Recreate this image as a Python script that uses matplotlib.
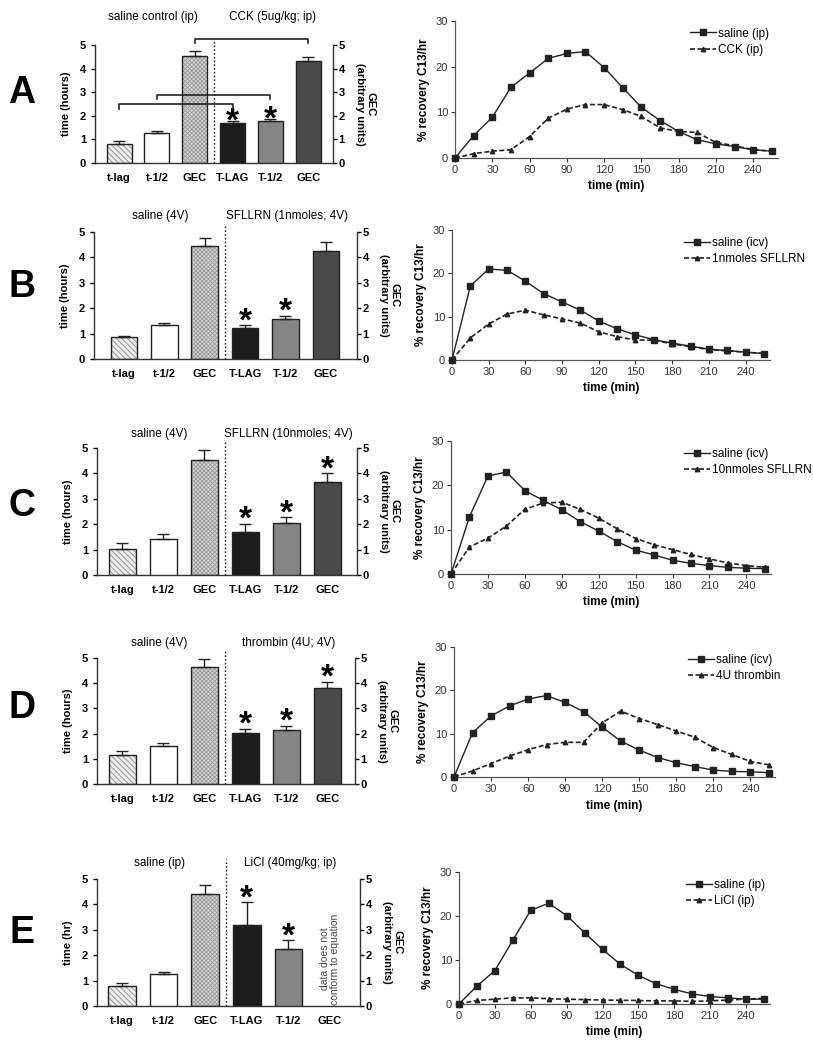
import matplotlib
matplotlib.use("Agg")
import matplotlib.pyplot as plt
import numpy as np

plt.rcParams['font.family'] = ['Liberation Sans', 'DejaVu Sans']
plt.rcParams['hatch.linewidth'] = 0.6

# ---------------- data ----------------
bar_labels = ["t-lag", "t-1/2", "GEC", "T-LAG", "T-1/2", "GEC"]
panel_letters = ["A", "B", "C", "D", "E"]

saline_titles = ["saline control (ip)", "saline (4V)", "saline (4V)", "saline (4V)", "saline (ip)"]
treat_titles = ["CCK (5ug/kg; ip)", "SFLLRN (1nmoles; 4V)", "SFLLRN (10nmoles; 4V)",
                "thrombin (4U; 4V)", "LiCl (40mg/kg; ip)"]
left_ylabels = ["time (hours)", "time (hours)", "time (hours)", "time (hours)", "time (hr)"]

bars_A = [0.82, 1.25, 4.53, 1.70, 1.76, 4.31]
errs_A = [0.11, 0.11, 0.23, 0.07, 0.10, 0.19]
bars_B = [0.85, 1.32, 4.45, 1.21, 1.59, 4.24]
errs_B = [0.07, 0.09, 0.32, 0.11, 0.12, 0.36]
bars_C = [1.04, 1.41, 4.54, 1.68, 2.04, 3.66]
errs_C = [0.21, 0.20, 0.38, 0.33, 0.24, 0.35]
bars_D = [1.17, 1.50, 4.64, 2.03, 2.14, 3.80]
errs_D = [0.15, 0.12, 0.31, 0.17, 0.16, 0.25]
bars_E = [0.80, 1.25, 4.41, 3.18, 2.25, np.nan]
errs_E = [0.11, 0.08, 0.37, 0.91, 0.34, np.nan]

stars_A = [3, 4]
stars_B = [3, 4]
stars_C = [3, 4, 5]
stars_D = [3, 4, 5]
stars_E = [3, 4]

time_min = [0, 15, 30, 45, 60, 75, 90, 105, 120, 135, 150, 165, 180, 195, 210, 225, 240, 255]

line_saline_A = [0, 4.9, 8.9, 15.5, 18.6, 21.8, 22.9, 23.3, 19.8, 15.4, 11.1, 8.2, 5.8, 4.0, 3.1, 2.5, 1.8, 1.5]
line_treat_A = [0, 0.95, 1.5, 1.8, 4.7, 8.7, 10.7, 11.7, 11.7, 10.6, 9.1, 6.6, 5.8, 5.6, 3.4, 2.7, 1.8, 1.5]
line_saline_B = [0, 17.1, 21.0, 20.7, 18.2, 15.3, 13.4, 11.5, 9.0, 7.2, 5.8, 4.7, 3.9, 3.2, 2.5, 2.2, 1.8, 1.5]
line_treat_B = [0, 5.1, 8.3, 10.6, 11.5, 10.4, 9.5, 8.5, 6.5, 5.4, 4.6, 4.6, 3.7, 3.1, 2.4, 2.1, 1.8, 1.5]
line_saline_C = [0, 12.9, 22.1, 23.0, 18.8, 16.6, 14.5, 11.8, 9.7, 7.3, 5.4, 4.3, 3.1, 2.4, 1.9, 1.5, 1.3, 1.2]
line_treat_C = [0, 6.1, 8.1, 10.8, 14.6, 16.0, 16.2, 14.6, 12.6, 10.2, 8.0, 6.6, 5.5, 4.4, 3.4, 2.5, 1.9, 1.5]
line_saline_D = [0, 10.2, 14.1, 16.4, 18.0, 18.8, 17.2, 15.1, 11.5, 8.3, 6.2, 4.5, 3.3, 2.4, 1.6, 1.3, 1.2, 1.0]
line_treat_D = [0, 1.4, 3.1, 4.8, 6.3, 7.5, 8.0, 8.0, 12.5, 15.2, 13.5, 12.1, 10.6, 9.2, 6.8, 5.2, 3.6, 2.8]
line_saline_E = [0, 4.1, 7.6, 14.5, 21.3, 22.9, 20.1, 16.2, 12.4, 9.0, 6.5, 4.6, 3.3, 2.3, 1.7, 1.4, 1.1, 1.1]
line_treat_E = [0, 0.8, 1.1, 1.4, 1.4, 1.2, 1.1, 1.0, 0.9, 0.85, 0.8, 0.7, 0.7, 0.6, 0.7, 0.9, 1.1, 1.3]

saline_legend = ["saline (ip)", "saline (icv)", "saline (icv)", "saline (icv)", "saline (ip)"]
treat_legend = ["CCK (ip)", "1nmoles SFLLRN", "10nmoles SFLLRN", "4U thrombin", "LiCl (ip)"]

bars_all = [bars_A, bars_B, bars_C, bars_D, bars_E]
errs_all = [errs_A, errs_B, errs_C, errs_D, errs_E]
stars_all = [stars_A, stars_B, stars_C, stars_D, stars_E]
lines_sal = [line_saline_A, line_saline_B, line_saline_C, line_saline_D, line_saline_E]
lines_trt = [line_treat_A, line_treat_B, line_treat_C, line_treat_D, line_treat_E]

# ---------------- layout (pixels) ----------------
W, H = 813, 1050
bar_boxes = [(95, 45, 333, 163), (94, 232, 357, 359), (97, 448, 357, 575),
             (97, 658, 355, 784), (97, 879, 360, 1006)]
line_boxes = [(455, 21, 778, 158), (452, 230, 770, 360), (451, 441, 771, 574),
              (454, 647, 775, 777), (459, 872, 770, 1004)]
bar_xlims = [(-0.64, 5.66), (-0.74, 5.77), (-0.62, 5.72), (-0.62, 5.68), (-0.6, 5.72)]
title_y = [6.19, 5.63, 5.55, 5.6, 5.63]
dotline_top = [5.18, 5.33, 5.33, 5.3, 5.8]
letter_y = [93, 287, 506, 708, 933]
star_offset_pts = [-7.0, -3.6, -3.6, -3.6, -3.6]

fig = plt.figure(figsize=(W / 100, H / 100), dpi=100)


def px_axes(box):
    x0, y0, x1, y1 = box
    return fig.add_axes([x0 / W, 1 - y1 / H, (x1 - x0) / W, (y1 - y0) / H])


face_cols = ['#ececec', 'white', '#d4d4d4', '#1c1c1c', '#858585', '#4a4a4a']
hatches = ['\\\\\\\\\\\\', None, 'xxxxxxxx', None, None, None]
hatch_cols = ['#8a8a8a', None, '#9a9a9a', None, None, None]

for i in range(5):
    ax = px_axes(bar_boxes[i])
    x = np.arange(6)
    vals = bars_all[i]
    errs = errs_all[i]
    for j in range(6):
        if np.isnan(vals[j]):
            continue
        if hatches[j]:
            ax.bar(x[j], vals[j], width=0.66, color=face_cols[j], edgecolor=hatch_cols[j],
                   hatch=hatches[j], linewidth=0, zorder=2)
            ax.bar(x[j], vals[j], width=0.66, fill=False, edgecolor='#222222', linewidth=1.0, zorder=3)
        else:
            ax.bar(x[j], vals[j], width=0.66, color=face_cols[j], edgecolor='#222222',
                   linewidth=1.0, zorder=3)
        ax.errorbar(x[j], vals[j], yerr=[[0], [errs[j]]], fmt='none', ecolor='#222222',
                    elinewidth=1.0, capsize=4.5, capthick=1.0, zorder=4)
    for j in stars_all[i]:
        ax.annotate('*', xy=(x[j], vals[j] + errs[j]), xytext=(0, star_offset_pts[i]),
                    textcoords='offset points', ha='center', va='baseline',
                    fontsize=24, fontweight='bold', annotation_clip=False)
    ax.set_xlim(*bar_xlims[i])
    ax.set_ylim(0, 5)
    ax.set_yticks(range(6))
    ax.set_xticks(x)
    ax.set_xticklabels(bar_labels, fontweight='bold', fontsize=8)
    ax.tick_params(axis='x', length=0, pad=7)
    ax.tick_params(axis='y', direction='out', length=3, labelsize=8, width=1)
    for lab in ax.get_yticklabels():
        lab.set_fontweight('bold')
    ax.spines['top'].set_visible(False)
    ax.spines['right'].set_visible(False)
    for s in ['left', 'bottom']:
        ax.spines[s].set_linewidth(1.0)
        ax.spines[s].set_color('#333333')
    ax.set_ylabel(left_ylabels[i], fontweight='bold', fontsize=8, labelpad=6)

    ax2 = ax.twinx()
    ax2.set_ylim(0, 5)
    ax2.set_yticks(range(6))
    ax2.tick_params(axis='y', direction='out', length=3, labelsize=8, width=1, pad=1)
    for lab in ax2.get_yticklabels():
        lab.set_fontweight('bold')
    for s in ['top', 'left', 'bottom']:
        ax2.spines[s].set_visible(False)
    ax2.spines['right'].set_linewidth(1.0)
    ax2.spines['right'].set_color('#333333')
    ax2.set_ylabel("GEC\n(arbitrary units)", rotation=270, fontweight='bold', fontsize=8,
                   labelpad=22, linespacing=1.1)

    ax.plot([2.5, 2.5], [0, dotline_top[i]], ls=(0, (1.2, 1.5)), color='#222222', lw=1.0,
            clip_on=False, zorder=5)
    ax.text(0.9, title_y[i], saline_titles[i], ha='center', va='center', fontsize=8.5)
    ax.text(4.05, title_y[i], treat_titles[i], ha='center', va='center', fontsize=8.5)

    if i == 0:
        bk = [(2, 5, 5.24, 5.07), (1, 4, 2.90, 2.70), (0, 3, 2.49, 2.29)]
        for (a, b, top, tip) in bk:
            ax.plot([a, a, b, b], [tip, top, top, tip], color='#222222', lw=1.2,
                    clip_on=False, zorder=6)
    if i == 4:
        ax.text(5.0, 0.05, "data does not\nconform to equation", rotation=90, ha='center',
                va='bottom', fontsize=7.5, color='#444444', linespacing=1.1)

    fig.text(22 / W, 1 - letter_y[i] / H, panel_letters[i], fontsize=27, fontweight='bold',
             ha='center', va='center')

# line charts
for i in range(5):
    ax = px_axes(line_boxes[i])
    ax.plot(time_min, lines_sal[i], '-', color='#222222', lw=1.0, marker='s', markersize=3.8,
            label=saline_legend[i], clip_on=False, zorder=3)
    ax.plot(time_min, lines_trt[i], '--', dashes=(3, 1.5), color='#222222', lw=1.2, marker='^',
            markersize=3.2, label=treat_legend[i], clip_on=False, zorder=3)
    ax.set_xlim(0, 260)
    ax.set_ylim(0, 30)
    ax.set_xticks(range(0, 241, 30))
    ax.set_yticks([0, 10, 20, 30])
    ax.spines['top'].set_visible(False)
    ax.spines['right'].set_visible(False)
    for s in ['left', 'bottom']:
        ax.spines[s].set_color('#555555')
        ax.spines[s].set_linewidth(0.9)
    ax.tick_params(direction='out', length=3, labelsize=8, colors='#333333', width=0.8, pad=2)
    ax.set_xlabel("time (min)", fontweight='bold', fontsize=8.5, labelpad=4)
    ax.set_ylabel("% recovery C13/hr", fontweight='bold', fontsize=8.5, labelpad=4)
    ax.legend(loc='upper left', bbox_to_anchor=(0.695, 1.03), frameon=False, fontsize=8.5,
              handlelength=2.2, handletextpad=0.2, labelspacing=0.35)

fig.savefig("out.png", dpi=100)
